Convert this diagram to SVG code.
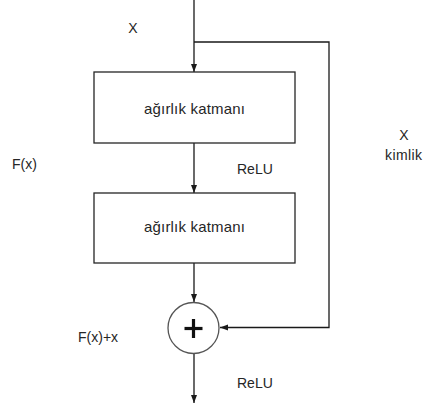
<svg xmlns="http://www.w3.org/2000/svg" width="424" height="409" viewBox="0 0 424 409">
<style>
text{font-family:"Liberation Sans",Arial,sans-serif;font-size:14px;fill:#262626}
.box{fill:#fff;stroke:#262626;stroke-width:1.3}
.ln{fill:none;stroke:#1a1a1a;stroke-width:1.3}
.bl{font-size:15px}
</style>
<defs>
<marker id="ah" viewBox="0 0 8 8" refX="8" refY="4" markerWidth="8" markerHeight="8" markerUnits="userSpaceOnUse" orient="auto">
<path d="M0,1 L8,4 L0,7 Z" fill="#1a1a1a"/>
</marker>
</defs>
<rect width="424" height="409" fill="#fff"/>
<g id="connectors">
<line class="ln" x1="194" y1="0" x2="194" y2="72" marker-end="url(#ah)"/>
<polyline class="ln" points="194,42 329,42 329,327.5 220,327.5" marker-end="url(#ah)"/>
<line class="ln" x1="194" y1="143" x2="194" y2="193" marker-end="url(#ah)"/>
<line class="ln" x1="194" y1="263" x2="194" y2="302" marker-end="url(#ah)"/>
<line class="ln" x1="194" y1="354" x2="194" y2="403" marker-end="url(#ah)"/>
</g>
<g id="layer1">
<rect class="box" x="94" y="72" width="201" height="71"/>
<text class="bl" x="194.5" y="114" text-anchor="middle" textLength="101">ağırlık katmanı</text>
</g>
<g id="layer2">
<rect class="box" x="94" y="193" width="201" height="70"/>
<text class="bl" x="194.5" y="232" text-anchor="middle" textLength="101">ağırlık katmanı</text>
</g>
<g id="sum">
<circle cx="193.5" cy="328" r="25.5" fill="#fff" stroke="#555" stroke-width="1.3"/>
<line x1="184.5" y1="328.5" x2="202.5" y2="328.5" stroke="#111" stroke-width="3.2"/>
<line x1="193.5" y1="319" x2="193.5" y2="338" stroke="#111" stroke-width="3.2"/>
</g>
<g id="labels">
<text x="404" y="140" text-anchor="middle">X</text>
<text x="133" y="33" text-anchor="middle">X</text>
<text x="385" y="160" textLength="37">kimlik</text>
<text x="12" y="169">F(x)</text>
<text x="237" y="174">ReLU</text>
<text x="78" y="342">F(x)+x</text>
<text x="237" y="388">ReLU</text>
</g>
</svg>
